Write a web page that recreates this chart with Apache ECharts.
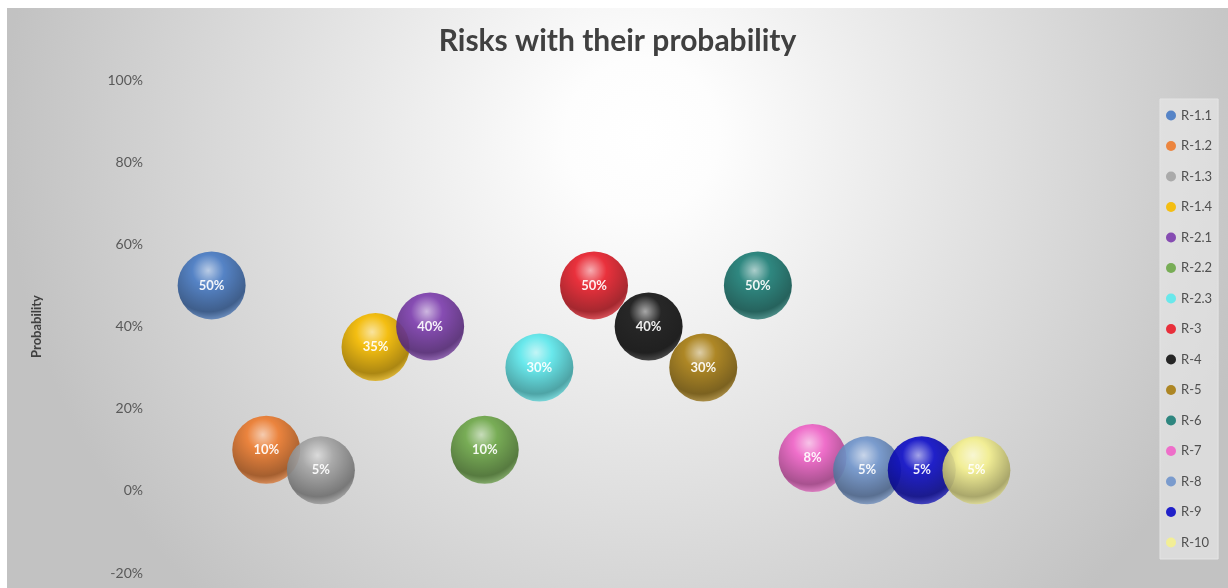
<!DOCTYPE html>
<html>
<head>
<meta charset="utf-8">
<script src="https://cdn.jsdelivr.net/npm/echarts@6/dist/echarts.min.js"></script>
<style>
  html, body { margin: 0; padding: 0; background: #fff; }
  #main { position: absolute; left: 7px; top: 8px; width: 1221px; height: 580px; }
</style>
</head>
<body>
<div id="main"></div>
<script>
// risk names, position on x axis, probability (%), bubble colour
const riskNames = ['R-1.1', 'R-1.2', 'R-1.3', 'R-1.4', 'R-2.1', 'R-2.2', 'R-2.3', 'R-3', 'R-4', 'R-5', 'R-6', 'R-7', 'R-8', 'R-9', 'R-10'];
const riskX = [1, 2, 3, 4, 5, 6, 7, 8, 9, 10, 11, 12, 13, 14, 15];
const probability = [50, 10, 5, 35, 40, 10, 30, 50, 40, 30, 50, 8, 5, 5, 5];
const riskColors = ['#4a7cc4', '#ed7d31', '#a5a5a5', '#f5bb00', '#7e3fae', '#6fa84a', '#5ee8ec', '#e8202c', '#151515', '#a87e14', '#1e7e76', '#f065c8', '#7296cc', '#1010c8', '#f4f090'];
const yTicks = [-20, 0, 20, 40, 60, 80, 100];

function shade(hex, amt) {
  // amt > 0 lighter, < 0 darker
  const n = parseInt(hex.slice(1), 16);
  let r = (n >> 16) & 255, g = (n >> 8) & 255, b = n & 255;
  const f = c => amt >= 0 ? Math.round(c + (255 - c) * amt) : Math.round(c * (1 + amt));
  return 'rgb(' + f(r) + ',' + f(g) + ',' + f(b) + ')';
}

function ball(color) {
  return new echarts.graphic.RadialGradient(0.45, 0.28, 0.78, [
    { offset: 0, color: shade(color, 0.6) },
    { offset: 0.3, color: color },
    { offset: 0.78, color: shade(color, -0.32) },
    { offset: 1, color: shade(color, 0.25) }
  ]);
}

const series = riskNames.map((name, i) => ({
  name: name,
  type: 'scatter',
  symbolSize: 68,
  data: [[riskX[i], probability[i]]],
  itemStyle: { color: ball(riskColors[i]), opacity: 0.92 },
  label: {
    show: true,
    position: 'inside',
    formatter: p => p.value[1] + '%',
    color: '#fff',
    fontFamily: 'Lato',
    fontWeight: 'bold',
    fontSize: 13
  },
  emphasis: { disabled: true }
}));

const chart = echarts.init(document.getElementById('main'));
chart.setOption({
  backgroundColor: new echarts.graphic.RadialGradient(0.52, 0.22, 1.1, [
    { offset: 0, color: '#ffffff' },
    { offset: 0.12, color: '#fdfdfd' },
    { offset: 1, color: '#c2c2c2' }
  ]),
  animation: false,
  color: riskColors,
  title: {
    text: 'Risks with their probability',
    left: 'center',
    top: 13,
    textStyle: { fontFamily: 'Lato', fontWeight: 'bold', fontSize: 30, color: '#404040' }
  },
  legend: {
    orient: 'vertical',
    left: 1153,
    top: 91,
    width: 68,
    padding: [10, 6, 10, 6],
    backgroundColor: 'rgba(235,235,235,0.6)',
    borderColor: '#e4e4e4',
    borderWidth: 1,
    itemWidth: 10,
    itemHeight: 10,
    itemGap: 17.5,
    icon: 'circle',
    textStyle: { fontFamily: 'Lato', fontSize: 13, color: '#505050', padding: [0, 0, 0, 0] },
    data: riskNames.map((n, i) => ({ name: n, itemStyle: { color: riskColors[i] } }))
  },
  grid: { left: 150, right: 197, top: 72, bottom: 15 },
  xAxis: {
    type: 'value',
    min: 0,
    max: 16,
    show: false
  },
  yAxis: {
    type: 'value',
    min: -20,
    max: 100,
    interval: 20,
    name: 'Probability',
    nameLocation: 'middle',
    nameGap: 114,
    nameTextStyle: { fontFamily: 'Lato', fontWeight: 'bold', fontSize: 13, color: '#404040' },
    axisLine: { show: false },
    axisTick: { show: false },
    splitLine: { show: false },
    axisLabel: {
      formatter: v => yTicks.includes(v) ? v + '%' : '',
      fontFamily: 'Lato',
      fontSize: 14,
      color: '#595959',
      margin: 14
    }
  },
  series: series
});
</script>
</body>
</html>
